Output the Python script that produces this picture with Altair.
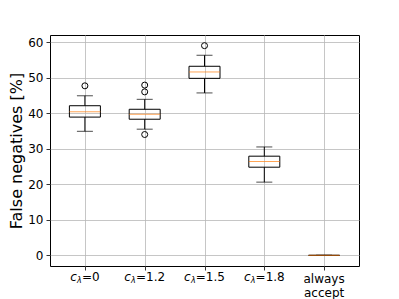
import altair as alt
import pandas as pd

categories = ["c_λ=0", "c_λ=1.2", "c_λ=1.5", "c_λ=1.8", "always accept"]
label_rest = ["=0", "=1.2", "=1.5", "=1.8"]
whisker_low = [34.9, 35.5, 45.7, 20.6, 0.0]
q1 = [38.9, 38.3, 49.8, 24.8, 0.0]
median = [40.4, 39.7, 51.6, 26.4, 0.0]
q3 = [42.1, 41.1, 53.2, 27.9, 0.0]
whisker_high = [44.9, 43.9, 56.3, 30.5, 0.0]
outlier_box = [1, 2, 2, 2, 3]
outlier_val = [47.7, 47.9, 46.0, 34.0, 59.0]
y_ticks = [0, 10, 20, 30, 40, 50, 60]

FONT = "DejaVu Sans"
GRID = "#b8b8b8"

df = pd.DataFrame({
    "cat": categories,
    "pos": list(range(1, len(categories) + 1)),
    "lo": whisker_low, "q1": q1, "med": median, "q3": q3, "hi": whisker_high,
})
out_df = pd.DataFrame({"pos": outlier_box, "val": outlier_val})

X = alt.X("pos:Q", scale=alt.Scale(domain=[0.5, 5.5], nice=False, zero=False),
          axis=alt.Axis(values=list(df["pos"]), labels=False, title=None, grid=True,
                        gridColor=GRID, gridWidth=0.8, domain=False,
                        tickSize=4, tickColor="black", tickWidth=0.8))
yscale = alt.Scale(domain=[-3, 62], nice=False, zero=False)
yaxis = alt.Axis(values=y_ticks, title="False negatives [%]", titleFont=FONT,
                 titleFontSize=16, titleFontWeight="normal", titleColor="black",
                 titlePadding=3, labelFont=FONT, labelFontSize=12, labelColor="black",
                 grid=True, gridColor=GRID, gridWidth=0.8, domain=False,
                 tickSize=4, tickColor="black", tickWidth=0.8, labelPadding=3)

base = alt.Chart(df)

box = base.mark_bar(size=31, fillOpacity=0, stroke="black", strokeWidth=1).encode(
    x=X, y=alt.Y("q1:Q", scale=yscale, axis=yaxis), y2="q3:Q")
wlow = base.mark_rule(color="black", strokeWidth=1).encode(
    x=X, y=alt.Y("lo:Q", scale=yscale, axis=yaxis), y2="q1:Q")
whigh = base.mark_rule(color="black", strokeWidth=1).encode(
    x=X, y=alt.Y("q3:Q", scale=yscale, axis=yaxis), y2="hi:Q")
cap_lo = base.mark_tick(orient="horizontal", size=16, thickness=1, color="black").encode(
    x=X, y=alt.Y("lo:Q", scale=yscale, axis=yaxis))
cap_hi = base.mark_tick(orient="horizontal", size=16, thickness=1, color="black").encode(
    x=X, y=alt.Y("hi:Q", scale=yscale, axis=yaxis))
med = base.mark_tick(orient="horizontal", size=31, thickness=1, color="#ff7f0e").encode(
    x=X, y=alt.Y("med:Q", scale=yscale, axis=yaxis))
outl = alt.Chart(out_df).mark_point(shape="circle", size=36, filled=False,
                                     color="black", strokeWidth=1, opacity=1).encode(
    x=X, y=alt.Y("val:Q", scale=yscale, axis=yaxis))

layers = [box, wlow, whigh, cap_lo, cap_hi, med, outl]

# custom x tick labels: italic c with subscript lambda
char_w = {"=": 10.1, ".": 3.8}
LABEL_Y = 237
for i, rest in enumerate(label_rest):
    rest_w = sum(char_w.get(ch, 7.6) for ch in rest)
    c_w, lam_w = 6.8, 4.9
    total = c_w + lam_w + rest_w
    start = -total / 2
    d = pd.DataFrame({"pos": [i + 1]})
    layers.append(alt.Chart(d).mark_text(text="c", font=FONT, fontSize=12, fontStyle="italic",
                                         align="left", baseline="top", dx=start, color="black")
                  .encode(x=X, y=alt.value(LABEL_Y)))
    layers.append(alt.Chart(d).mark_text(text="λ", font=FONT, fontSize=8, fontStyle="italic",
                                         align="left", baseline="top", dx=start + c_w, dy=5,
                                         color="black")
                  .encode(x=X, y=alt.value(LABEL_Y)))
    layers.append(alt.Chart(d).mark_text(text=rest, font=FONT, fontSize=12,
                                         align="left", baseline="top",
                                         dx=start + c_w + lam_w, color="black")
                  .encode(x=X, y=alt.value(LABEL_Y)))

last = pd.DataFrame({"pos": [len(categories)], "txt": [categories[-1].split(" ")]})
layers.append(alt.Chart(last).mark_text(font=FONT, fontSize=12, align="center",
                                        baseline="top", lineHeight=14, dy=2, color="black")
              .encode(x=X, y=alt.value(LABEL_Y), text="txt"))

chart = alt.layer(*layers).properties(
    width=309, height=231,
    autosize=alt.AutoSizeParams(type="none"),
    padding={"left": 42, "top": 27, "right": 30, "bottom": 34},
).configure_view(stroke="black", strokeWidth=1)

chart.save("out.html", embed_options={"renderer": "svg", "actions": False})
